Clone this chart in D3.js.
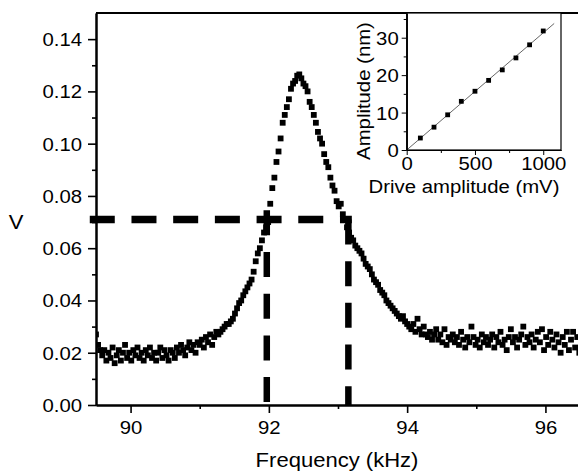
<!DOCTYPE html>
<html>
<head>
<meta charset="utf-8">
<script src="https://cdn.jsdelivr.net/npm/d3@7"></script>
<style>
  body { margin: 0; background: #fff; }
  svg text { font-family: "Liberation Sans", Arial, sans-serif; fill: #000; }
  .axis path, .axis line { stroke: #000; }
</style>
</head>
<body>
<div id="chart"></div>
<script>
// resonance sweep, frequency in kHz
const freq = [
  89.50,89.53,89.56,89.59,89.62,89.65,89.68,89.71,89.74,89.77,
  89.80,89.83,89.86,89.89,89.92,89.95,89.98,90.01,90.04,90.07,
  90.10,90.13,90.16,90.19,90.22,90.25,90.28,90.31,90.34,90.37,
  90.40,90.43,90.46,90.49,90.52,90.55,90.58,90.61,90.64,90.67,
  90.70,90.73,90.76,90.79,90.82,90.85,90.88,90.91,90.94,90.97,
  91.00,91.03,91.06,91.09,91.12,91.15,91.18,91.21,91.24,91.27,
  91.30,91.33,91.36,91.39,91.42,91.45,91.48,91.51,91.54,91.57,
  91.60,91.63,91.66,91.69,91.72,91.75,91.78,91.81,91.84,91.87,
  91.90,91.93,91.96,91.99,92.02,92.05,92.08,92.11,92.14,92.17,
  92.20,92.23,92.26,92.29,92.32,92.35,92.38,92.41,92.44,92.47,
  92.50,92.53,92.56,92.59,92.62,92.65,92.68,92.71,92.74,92.77,
  92.80,92.83,92.86,92.89,92.92,92.95,92.98,93.01,93.04,93.07,
  93.10,93.13,93.16,93.19,93.22,93.25,93.28,93.31,93.34,93.37,
  93.40,93.43,93.46,93.49,93.52,93.55,93.58,93.61,93.64,93.67,
  93.70,93.73,93.76,93.79,93.82,93.85,93.88,93.91,93.94,93.97,
  94.00,94.03,94.06,94.09,94.12,94.15,94.18,94.21,94.24,94.27,
  94.30,94.33,94.36,94.39,94.42,94.45,94.48,94.51,94.54,94.57,
  94.60,94.63,94.66,94.69,94.72,94.75,94.78,94.81,94.84,94.87,
  94.90,94.93,94.96,94.99,95.02,95.05,95.08,95.11,95.14,95.17,
  95.20,95.23,95.26,95.29,95.32,95.35,95.38,95.41,95.44,95.47,
  95.50,95.53,95.56,95.59,95.62,95.65,95.68,95.71,95.74,95.77,
  95.80,95.83,95.86,95.89,95.92,95.95,95.98,96.01,96.04,96.07,
  96.10,96.13,96.16,96.19,96.22,96.25,96.28,96.31,96.34,96.37,
  96.40,96.43,96.46,96.49
];
// signal in V
const signal = [
  0.027,0.023,0.021,0.019,0.021,0.017,0.020,0.018,0.022,0.016,
  0.019,0.021,0.017,0.020,0.023,0.018,0.020,0.017,0.021,0.019,
  0.022,0.018,0.020,0.017,0.021,0.019,0.022,0.018,0.020,0.017,
  0.020,0.022,0.018,0.021,0.019,0.017,0.021,0.020,0.018,0.022,
  0.020,0.023,0.021,0.019,0.022,0.024,0.021,0.023,0.020,0.024,
  0.023,0.025,0.022,0.026,0.024,0.027,0.023,0.026,0.028,0.027,
  0.028,0.029,0.030,0.031,0.031,0.032,0.033,0.035,0.037,0.039,
  0.040,0.042,0.0435,0.045,0.0465,0.048,0.051,0.055,0.058,0.060,
  0.063,0.066,0.068,0.070,0.077,0.083,0.087,0.093,0.097,0.102,
  0.108,0.111,0.114,0.117,0.121,0.123,0.124,0.126,0.1265,0.125,
  0.123,0.122,0.120,0.116,0.114,0.111,0.108,0.1045,0.102,0.100,
  0.096,0.093,0.091,0.087,0.084,0.082,0.078,0.076,0.077,0.073,
  0.071,0.068,0.066,0.064,0.063,0.061,0.060,0.059,0.058,0.056,
  0.054,0.053,0.052,0.050,0.048,0.047,0.046,0.044,0.043,0.042,
  0.040,0.039,0.038,0.037,0.036,0.035,0.034,0.033,0.034,0.032,
  0.031,0.030,0.029,0.031,0.028,0.033,0.029,0.027,0.030,0.027,
  0.026,0.028,0.025,0.027,0.029,0.025,0.027,0.024,0.029,0.023,
  0.026,0.025,0.027,0.024,0.026,0.023,0.028,0.025,0.022,0.026,
  0.024,0.030,0.026,0.023,0.025,0.022,0.027,0.024,0.026,0.023,
  0.025,0.027,0.022,0.026,0.024,0.028,0.023,0.025,0.021,0.026,
  0.029,0.024,0.026,0.022,0.025,0.027,0.030,0.023,0.026,0.024,
  0.027,0.022,0.025,0.028,0.024,0.029,0.021,0.026,0.023,0.028,
  0.025,0.022,0.027,0.024,0.020,0.026,0.023,0.028,0.021,0.025,
  0.028,0.022,0.026,0.020
];
// half-height guides: horizontal level, and the two crossing frequencies
const guideLevel = [89.41, 93.2, 0.071];
const guideLeft = [91.97, 0.0745];
const guideRight = [93.15, 0.071];

const xTicks = [90, 92, 94, 96];
const xMinor = [91, 93, 95];
const yTicks = [0, 0.02, 0.04, 0.06, 0.08, 0.10, 0.12, 0.14];
const yMinor = [0.01, 0.03, 0.05, 0.07, 0.09, 0.11, 0.13];

// inset: amplitude vs drive
const drive = [100, 200, 300, 400, 500, 600, 700, 800, 900, 1000];
const amplitude = [3.2, 6.1, 9.4, 13.0, 15.7, 18.6, 21.4, 24.6, 28.1, 31.8];
const fitDrive = [0, 1080];
const fitAmp = [0, 33.8];
const insetXTicks = [0, 500, 1000];
const insetXMinor = [250, 750];
const insetYTicks = [0, 10, 20, 30];
const insetYMinor = [5, 15, 25, 35];

const W = 578, H = 471;
const SX = 1.13; // the original lettering is a little wider than Arial
const svg = d3.select("#chart").append("svg").attr("width", W).attr("height", H);

const x = d3.scaleLinear().domain([89.5, 96.5]).range([96, 580]);
const y = d3.scaleLinear().domain([0, 0.15]).range([405, 13]);

svg.append("clipPath").attr("id", "plotclip").append("rect")
  .attr("x", 96).attr("y", 13).attr("width", 484).attr("height", 392);

// data squares
const pts = freq.map((f, i) => [f, signal[i]]);
svg.append("g").attr("clip-path", "url(#plotclip)")
  .selectAll("rect").data(pts).enter().append("rect")
  .attr("x", d => x(d[0]) - 2.9).attr("y", d => y(d[1]) - 2.9)
  .attr("width", 5.8).attr("height", 5.8).attr("fill", "#000");

// dashed guides
const dash = "25,16.7";
svg.append("line")
  .attr("x1", x(guideLevel[0])).attr("x2", x(guideLevel[1]))
  .attr("y1", y(guideLevel[2])).attr("y2", y(guideLevel[2]))
  .attr("stroke", "#000").attr("stroke-width", 7.5).attr("stroke-dasharray", dash);
[guideLeft, guideRight].forEach(g => {
  svg.append("line")
    .attr("x1", x(g[0])).attr("x2", x(g[0]))
    .attr("y1", y(g[1])).attr("y2", y(0))
    .attr("stroke", "#000").attr("stroke-width", 6.5).attr("stroke-dasharray", dash);
});

// frame
svg.append("line").attr("x1", 96).attr("x2", 580).attr("y1", 13).attr("y2", 13)
  .attr("stroke", "#000").attr("stroke-width", 2);

function label(sel, size, tx, ty) {
  sel.attr("font-size", size).attr("x", 0).attr("y", 0).attr("dy", null)
    .attr("transform", `translate(${tx},${ty}) scale(${SX},1)`);
}

const fmtY = d3.format(".2f");
const xAxis = svg.append("g").attr("class", "axis").attr("transform", "translate(0,405)")
  .call(d3.axisBottom(x).tickValues(xTicks).tickSize(8).tickSizeOuter(0).tickFormat(d3.format("d")));
svg.append("g").attr("class", "axis").attr("transform", "translate(0,405)")
  .call(d3.axisBottom(x).tickValues(xMinor).tickSize(4).tickSizeOuter(0).tickFormat(""));
const yAxis = svg.append("g").attr("class", "axis").attr("transform", "translate(96,0)")
  .call(d3.axisLeft(y).tickValues(yTicks).tickSize(8).tickSizeOuter(0).tickFormat(fmtY));
svg.append("g").attr("class", "axis").attr("transform", "translate(96,0)")
  .call(d3.axisLeft(y).tickValues(yMinor).tickSize(4).tickSizeOuter(0).tickFormat(""));
svg.selectAll(".axis path").attr("stroke-width", 2);
svg.selectAll(".axis line").attr("stroke-width", 1.6);
label(xAxis.selectAll("text"), 18, 0, 28.5);
label(yAxis.selectAll("text"), 18, -14, 6.5);

label(svg.append("text").attr("text-anchor", "middle").text("Frequency (kHz)"), 19.5, 337, 467);
label(svg.append("text").attr("text-anchor", "middle").text("V"), 19.5, 16, 229);

// inset
const ix = d3.scaleLinear().domain([0, 1130]).range([406.7, 561]);
const iy = d3.scaleLinear().domain([0, 36.6]).range([150, 13]);
const inset = svg.append("g");
inset.append("rect").attr("x", 406.7).attr("y", 13).attr("width", 561 - 406.7).attr("height", 137)
  .attr("fill", "#fff").attr("stroke", "#000").attr("stroke-width", 1.2);
inset.append("line")
  .attr("x1", ix(fitDrive[0])).attr("y1", iy(fitAmp[0]))
  .attr("x2", ix(fitDrive[1])).attr("y2", iy(fitAmp[1]))
  .attr("stroke", "#555").attr("stroke-width", 0.9);
inset.selectAll(".ipt").data(drive.map((d, i) => [d, amplitude[i]])).enter().append("rect")
  .attr("x", d => ix(d[0]) - 2.4).attr("y", d => iy(d[1]) - 2.4)
  .attr("width", 4.8).attr("height", 4.8).attr("fill", "#000");

const ixAxis = inset.append("g").attr("class", "axis").attr("transform", "translate(0,150)")
  .call(d3.axisBottom(ix).tickValues(insetXTicks).tickSize(5).tickSizeOuter(0).tickFormat(d3.format("d")));
inset.append("g").attr("class", "axis").attr("transform", "translate(0,150)")
  .call(d3.axisBottom(ix).tickValues(insetXMinor).tickSize(3).tickSizeOuter(0).tickFormat(""));
const iyAxis = inset.append("g").attr("class", "axis").attr("transform", "translate(406.7,0)")
  .call(d3.axisLeft(iy).tickValues(insetYTicks).tickSize(5).tickSizeOuter(0).tickFormat(d3.format("d")));
inset.append("g").attr("class", "axis").attr("transform", "translate(406.7,0)")
  .call(d3.axisLeft(iy).tickValues(insetYMinor).tickSize(3).tickSizeOuter(0).tickFormat(""));
inset.selectAll(".axis path").attr("stroke-width", 1.2);
inset.selectAll(".axis line").attr("stroke-width", 1);
label(ixAxis.selectAll("text"), 18, 0, 20);
label(iyAxis.selectAll("text"), 18, -8, 6.5);

label(inset.append("text").attr("text-anchor", "middle").text("Drive amplitude (mV)"), 18, 464, 193);
inset.append("text").attr("text-anchor", "middle").attr("font-size", 18)
  .attr("transform", `translate(370,91) rotate(-90) scale(${SX},1)`).text("Amplitude (nm)");
</script>
</body>
</html>
